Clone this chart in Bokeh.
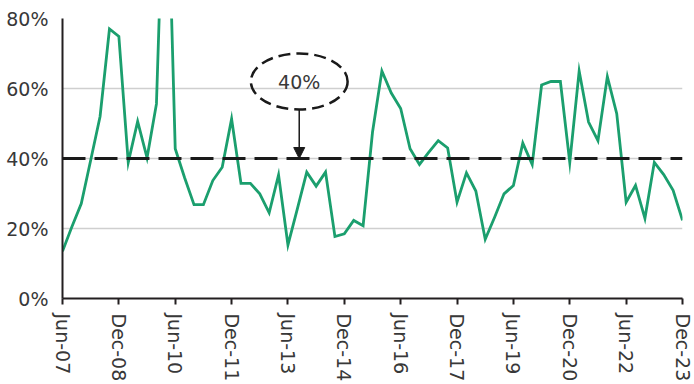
from bokeh.plotting import figure
from bokeh.models import (FixedTicker, Range1d, Span, Label, Arrow, NormalHead,
                          ColumnDataSource)
from bokeh.embed import file_html
from bokeh.resources import INLINE
import pandas as pd

# Quarter ends from Jun-07 to Dec-23
quarters = [d.strftime("%b-%y") for d in pd.date_range("2007-06-30", "2023-12-31", freq="QE-DEC")]

# Ratio per quarter, in percent
ratio_pct = [
    13.5, 20.5, 27.1, 39.5, 52.0, 77.0, 74.9, 38.9, 50.6, 40.2,
    55.6, 140.0, 42.8, 34.5, 26.8, 26.8, 33.7, 37.5, 51.3, 32.9,
    32.9, 29.9, 24.5, 35.3, 15.3, 25.6, 36.1, 32.1, 36.1, 17.7,
    18.5, 22.3, 20.8, 47.5, 65.0, 58.7, 54.3, 42.8, 38.3, 41.8,
    45.1, 43.0, 27.5, 35.9, 30.7, 16.9, 23.2, 29.9, 32.3, 44.4,
    38.3, 61.0, 62.0, 62.0, 38.9, 65.0, 50.4, 45.1, 63.4, 52.8,
    27.5, 32.3, 22.9, 38.9, 35.4, 30.9, 22.3,
]

threshold_pct = 40
y_ticks = [0, 20, 40, 60, 80]

x = list(range(len(quarters)))
src = ColumnDataSource(dict(x=x, y=ratio_pct))

TEXT = "#383838"
FONT = "DejaVu Sans"

p = figure(width=694, height=384, output_backend="svg", toolbar_location=None,
           x_range=Range1d(0, len(quarters) - 1), y_range=Range1d(0, 80),
           min_border_left=62, min_border_right=12, min_border_top=18,
           min_border_bottom=86)
p.outline_line_color = None
p.background_fill_color = "white"

p.line("x", "y", source=src, line_color="#1b9f6e", line_width=2.8,
       line_join="miter")

# Horizontal grid
p.xgrid.grid_line_color = None
p.ygrid.ticker = FixedTicker(ticks=y_ticks[1:])
p.ygrid.grid_line_color = "#cfcfcf"
p.ygrid.grid_line_width = 1.5

# Y axis
p.yaxis.ticker = FixedTicker(ticks=y_ticks)
p.yaxis.major_label_overrides = {t: f"{t}%" for t in y_ticks}
p.yaxis.major_tick_line_color = None
p.yaxis.minor_tick_line_color = None
p.yaxis.axis_line_width = 2
p.yaxis.axis_line_color = "#231f20"
p.yaxis.major_label_text_font = FONT
p.yaxis.major_label_text_font_size = "19px"
p.yaxis.major_label_text_color = TEXT
p.yaxis.major_label_standoff = 8

# X axis: a label every six quarters
tick_idx = list(range(0, len(quarters), 6))
p.xaxis.ticker = FixedTicker(ticks=tick_idx)
p.xaxis.major_label_overrides = {i: quarters[i] for i in tick_idx}
p.xaxis.major_label_orientation = "vertical"
p.xaxis.minor_tick_line_color = None
p.xaxis.major_tick_in = 0
p.xaxis.major_tick_out = 6
p.xaxis.major_tick_line_width = 2
p.xaxis.major_tick_line_color = "#231f20"
p.xaxis.axis_line_width = 2
p.xaxis.axis_line_color = "#231f20"
p.xaxis.major_label_text_font = FONT
p.xaxis.major_label_text_font_size = "19px"
p.xaxis.major_label_text_color = TEXT
p.xaxis.major_label_standoff = 9

# 40% threshold
p.add_layout(Span(location=threshold_pct, dimension="width", line_color="#1a1a1a",
                  line_width=3, line_dash="23 9"))

# Callout: dashed ellipse with the threshold value and an arrow to the line
cx, cy = 25.2, 62
p.ellipse(x=[cx], y=[cy], width=10.3, height=16, fill_color="white",
          fill_alpha=0, line_color="#1a1a1a", line_width=2.5, line_dash="12 6")
p.add_layout(Label(x=cx, y=cy, text=f"{threshold_pct}%", text_align="center",
                   text_baseline="middle", text_font=FONT,
                   text_font_size="19px", text_color=TEXT))
p.add_layout(Arrow(x_start=cx, y_start=cy - 8, x_end=cx, y_end=threshold_pct,
                   line_color="#1a1a1a", line_width=1.5,
                   end=NormalHead(size=11, fill_color="#1a1a1a",
                                  line_color="#1a1a1a")))

open("out.html", "w").write(file_html(p, INLINE))
